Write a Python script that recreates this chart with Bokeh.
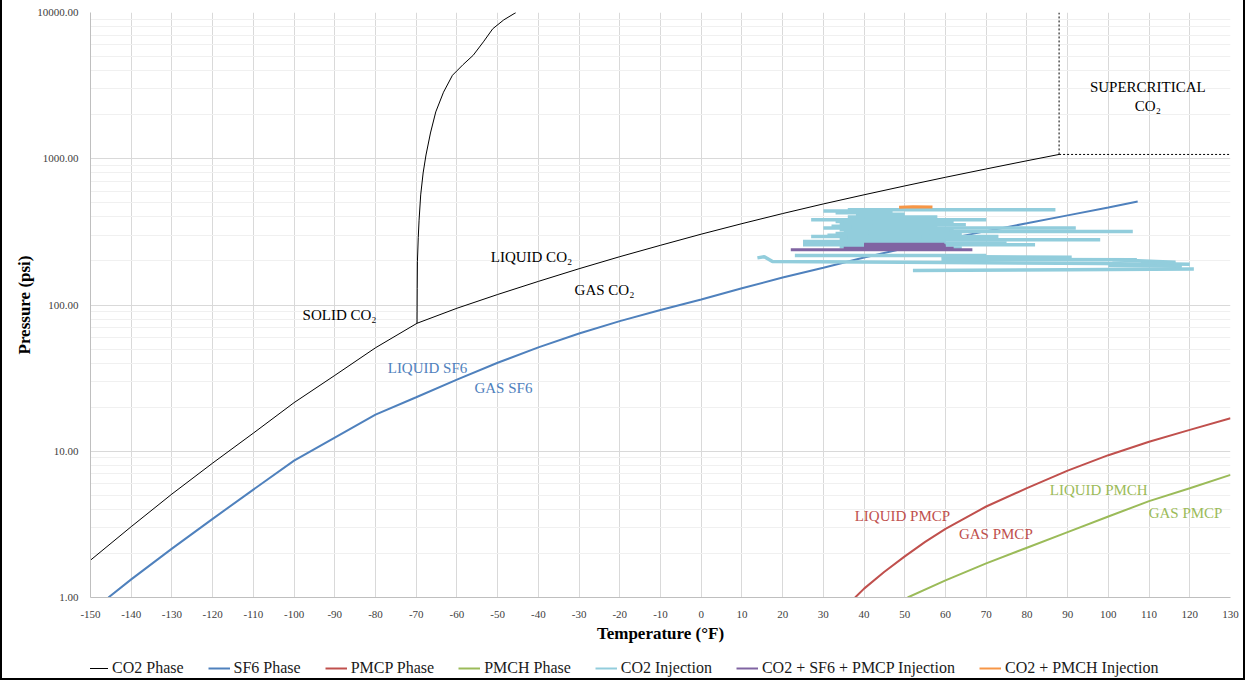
from bokeh.plotting import figure
from bokeh.layouts import column
from bokeh.models import Range1d, FixedTicker, PrintfTickFormatter, Legend, LegendItem, ColumnDataSource
from bokeh.core.properties import value
from bokeh.embed import file_html
from bokeh.resources import INLINE

# ---------------- data ----------------
x_ticks = list(range(-150, 131, 10))
y_ticks = [1, 10, 100, 1000, 10000]

# CO2 sublimation + vaporization curve (to critical point)
co2_t = [-150, -140, -130, -120, -110, -100, -90, -80, -69.8, -60, -50, -40, -30, -20, -10,
         0, 10, 20, 30, 40, 50, 60, 70, 80, 87.9]
co2_p = [1.8, 3.05, 5.1, 8.3, 13.3, 21.5, 33, 51, 75, 95, 118, 145, 177, 214, 256,
         305, 360, 422, 491, 567, 652, 747, 852, 969, 1070]
# CO2 melting curve
co2_melt_t = [-69.8, -69.75, -69.7, -69.5, -69.3, -68.9, -68.3, -67.6, -66.5, -65.2, -63.3, -61.1, -58.5, -56, -53.5, -51.2, -48.5, -45.5]
co2_melt_p = [75, 130, 199, 290, 380, 566, 800, 1061, 1500, 2090, 2850, 3720, 4400, 5100, 6300, 7740, 8900, 10000]
# supercritical boundary
crit_t = 87.9
crit_p = 1070

sf6_t = [-145.6, -140, -130, -120, -110, -100, -90, -80, -70, -60, -50, -40, -30, -20, -10,
         0, 10, 20, 30, 40, 50, 60, 70, 80, 90, 100, 107.2]
sf6_p = [1.0, 1.33, 2.16, 3.45, 5.47, 8.62, 12.4, 17.8, 23.4, 30.9, 40.3, 51.3, 63.8, 77.6, 92.3,
         109, 130, 154, 180, 211, 244, 281, 320, 362, 410, 464, 510]

pmcp_t = [37.8, 40, 45, 50, 55, 60, 70, 80, 90, 100, 110, 120, 130]
pmcp_p = [1.0, 1.15, 1.5, 1.91, 2.4, 2.95, 4.19, 5.59, 7.37, 9.4, 11.6, 14.0, 16.8]

pmch_t = [50.7, 60, 70, 80, 90, 100, 110, 120, 130]
pmch_p = [1.0, 1.31, 1.71, 2.19, 2.80, 3.58, 4.56, 5.59, 6.89]

# CO2 injection (temperature runs, pressure)
co2_inj_t = [[36, 87], [30, 44], [33, 47], [38, 50], [36, 58], [27, 70], [33, 62], [35, 60],
             [34, 65], [32, 58], [30, 92], [34, 62], [35, 106], [33, 64], [31, 60], [27, 73],
             [34, 66], [38, 98], [25, 60], [30, 75], [25, 82], [34, 55], [36, 64], [23, 70],
             [59, 91], [13.8, 15.5, 17.5, 60, 99, 110], [59, 107], [101, 116.5, 112, 118],
             [108, 120], [100, 118], [52, 90, 121], [40, 55], [38, 58], [42, 60], [37, 57],
             [39, 61], [41, 56], [36, 54]]
co2_inj_p = [[448, 448], [440, 440], [428, 428], [418, 418], [400, 400], [383, 383], [372, 372], [362, 362],
             [354, 354], [345, 345], [336, 336], [327, 327], [318, 318], [308, 308], [300, 300], [294, 294],
             [286, 286], [279, 279], [272, 272], [265, 265], [258, 258], [250, 250], [245, 245], [218, 218],
             [215, 212], [210, 214, 198, 195, 192, 190], [205, 204], [204, 196, 188, 183],
             [192, 190], [186, 184], [172, 174, 176], [390, 390], [378, 378], [367, 367], [340, 340],
             [322, 322], [313, 313], [290, 290]]

mix1_t = [[22, 66.6], [35, 62], [40, 60], [40, 60], [40, 60], [40, 59.7]]
mix1_p = [[239, 239], [244, 244], [248, 248], [252, 252], [256, 256], [260, 260]]

mix2_t = [[48.6, 52, 56.8]]
mix2_p = [[466, 470, 467]]

label_text = ["SOLID CO\u2082", "LIQUID CO\u2082", "GAS CO\u2082", "LIQUID SF6", "GAS SF6",
              "LIQUID PMCP", "GAS PMCP", "LIQUID PMCH", "GAS PMCP"]
label_t = [-97.9, -51.7, -31.1, -77.0, -55.7, 37.7, 63.3, 85.6, 109.9]
label_p = [86, 214, 127.6, 36.9, 27.0, 3.62, 2.73, 5.44, 3.80]
label_color = ["#000000", "#000000", "#000000", "#4F81BD", "#4F81BD",
               "#C0504D", "#C0504D", "#9BBB59", "#9BBB59"]

sc_text = ["SUPERCRITICAL", "CO\u2082"]
sc_t = [109.7, 109.7]
sc_p = [3083, 2290]

series_names = ["CO2 Phase", "SF6 Phase", "PMCP Phase", "PMCH Phase", "CO2 Injection",
                "CO2 + SF6 + PMCP Injection", "CO2 + PMCH Injection"]
series_colors = ["#000000", "#4F81BD", "#C0504D", "#9BBB59", "#92CDDC", "#8064A2", "#F79646"]
series_widths = [1, 2, 2, 2, 2, 2, 2]

FONT = "Liberation Serif"

p = figure(width=1241, height=646, x_range=Range1d(-150, 130), y_range=Range1d(1, 10000),
           y_axis_type="log", output_backend="svg", toolbar_location=None,
           min_border_left=88, min_border_right=13, min_border_top=13, min_border_bottom=46)
p.outline_line_color = None

p.xaxis.ticker = FixedTicker(ticks=x_ticks)
minor = [m * d for d in [1, 10, 100, 1000] for m in range(2, 10)]
p.yaxis.ticker = FixedTicker(ticks=y_ticks, minor_ticks=minor)
p.xgrid.ticker = FixedTicker(ticks=x_ticks)
p.yaxis.formatter = PrintfTickFormatter(format="%.2f")
p.xaxis.formatter = PrintfTickFormatter(format="%d")
p.xgrid.grid_line_color = "#D9D9D9"
p.ygrid.grid_line_color = "#D9D9D9"
p.ygrid.minor_grid_line_color = "#F0F0F0"
for ax in (p.xaxis, p.yaxis):
    ax.axis_line_color = "#BFBFBF"
    ax.major_tick_line_color = None
    ax.minor_tick_line_color = None
    ax.major_label_text_font = FONT
    ax.major_label_text_font_size = "11px"
    ax.major_label_text_color = "#404040"
    ax.axis_label_text_font = FONT
    ax.axis_label_text_font_style = "bold"
    ax.axis_label_text_font_size = "17px"
    ax.axis_label_text_color = "#000000"
p.xaxis.axis_label = "Temperature (\u00b0F)"
p.yaxis.axis_label = "Pressure (psi)"
p.yaxis.major_label_standoff = 6
p.xaxis.major_label_standoff = 7
p.yaxis.axis_label_standoff = 0
p.xaxis.axis_label_standoff = 3

r_co2 = p.line(co2_t, co2_p, line_color=series_colors[0], line_width=series_widths[0])
p.line(co2_melt_t, co2_melt_p, line_color=series_colors[0], line_width=series_widths[0])
p.line([crit_t, crit_t], [crit_p, 10000], line_color="#000000", line_width=1, line_dash="2 2")
p.line([crit_t, 130], [crit_p, crit_p], line_color="#000000", line_width=1, line_dash="2 2")
p.line(sf6_t, sf6_p, line_color=series_colors[1], line_width=2)
p.line(pmcp_t, pmcp_p, line_color=series_colors[2], line_width=2)
p.line(pmch_t, pmch_p, line_color=series_colors[3], line_width=2)
p.multi_line(co2_inj_t, co2_inj_p, line_color=series_colors[4], line_width=3.5)
p.multi_line(mix1_t, mix1_p, line_color=series_colors[5], line_width=3)
p.multi_line(mix2_t, mix2_p, line_color=series_colors[6], line_width=3)

lsrc = ColumnDataSource(dict(x=label_t, y=label_p, text=label_text, color=label_color))
p.text(x="x", y="y", text="text", text_color="color", source=lsrc, text_font=value(FONT),
       text_font_size="15px", text_align="left", text_baseline="middle")
p.text(x=sc_t, y=sc_p, text=sc_text, text_color="#000000", text_font=value(FONT),
       text_font_size="15px", text_align="center", text_baseline="middle")

# legend strip below the chart
leg = figure(width=1241, height=33, x_range=Range1d(0, 1), y_range=Range1d(0, 1),
             output_backend="svg", toolbar_location=None, x_axis_location=None,
             y_axis_location=None, min_border=0)
leg.grid.visible = False
leg.outline_line_color = None
items = []
for name, col, w in zip(series_names, series_colors, series_widths):
    r = leg.line([5, 6], [5, 6], line_color=col, line_width=w)
    items.append(LegendItem(label=name, renderers=[r]))
legend = Legend(items=items, orientation="horizontal", location=(-4, 0))
legend.label_text_font = FONT
legend.label_text_font_size = "16px"
legend.label_text_color = "#1a1a1a"
legend.glyph_width = 22
legend.label_standoff = 4
legend.spacing = 24
legend.border_line_color = None
legend.background_fill_alpha = 0
legend.margin = 0
legend.padding = 4
leg.add_layout(legend, "center")

lay = column(p, leg, spacing=0)
lay.styles = {"border": "2px solid black", "margin-top": "-3px", "margin-bottom": "-12px"}

open("out.html", "w").write(file_html(lay, INLINE))
